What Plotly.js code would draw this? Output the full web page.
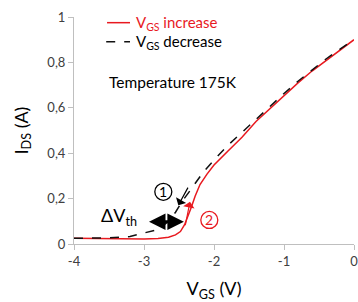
<!DOCTYPE html>
<html><head><meta charset="utf-8">
<script src="https://cdn.plot.ly/plotly-3.0.1.min.js"></script>
<style>html,body{margin:0;padding:0;background:#fff}#c{width:358px;height:302px}</style>
</head><body><div id="c"></div>
<script>
const incX = [-4, -3.5, -3, -2.8, -2.65, -2.55, -2.48, -2.42, -2.36, -2.32, -2.27, -2.2, -2.1, -2.0, -1.8, -1.6, -1.4, -1.2, -1.0, -0.8, -0.6, -0.4, -0.2, 0];
const incY = [0.025, 0.022, 0.022, 0.024, 0.03, 0.04, 0.055, 0.085, 0.13, 0.165, 0.21, 0.262, 0.308, 0.348, 0.41, 0.47, 0.54, 0.597, 0.655, 0.71, 0.762, 0.808, 0.853, 0.9];
const decX = [-4, -3.5, -3.2, -3.0, -2.85, -2.75, -2.65, -2.55, -2.45, -2.35, -2.25, -2.15, -2.0, -1.8, -1.6, -1.4, -1.2, -1.0, -0.8, -0.6, -0.4, -0.2, 0];
const decY = [0.025, 0.027, 0.033, 0.048, 0.06, 0.075, 0.1, 0.14, 0.19, 0.232, 0.275, 0.318, 0.37, 0.435, 0.492, 0.55, 0.605, 0.663, 0.717, 0.768, 0.815, 0.858, 0.9];
const xTicks = [-4, -3, -2, -1, 0];
const xTickText = ['-4', '-3', '-2', '-1', '0'];
const yTicks = [0, 0.2, 0.4, 0.6, 0.8, 1];
const yTickText = ['0', '0,2', '0,4', '0,6', '0,8', '1'];
const seriesNames = ['V<sub>GS</sub> increase', 'V<sub>GS</sub> decrease'];
const RED = '#e8191f';

const FONT = 'Lato, "Open Sans", sans-serif';
const data = [
  {x: incX, y: incY, mode: 'lines', name: seriesNames[0], line: {color: RED, width: 1.5}},
  {x: decX, y: decY, mode: 'lines', name: seriesNames[1], line: {color: '#111', width: 1.5, dash: 'dash'}}
];
function circ(xc, yc, r, color) {
  return {type: 'circle', xref: 'x', yref: 'y', xsizemode: 'pixel', ysizemode: 'pixel',
    xanchor: xc, yanchor: yc, x0: -r, x1: r, y0: -r, y1: r, line: {color: color, width: 1.3}};
}
const layout = {
  width: 358, height: 302,
  margin: {l: 74, r: 4, t: 17, b: 58},
  paper_bgcolor: '#fff', plot_bgcolor: '#fff',
  font: {family: FONT, color: '#404040', size: 12},
  showlegend: false,
  xaxis: {range: [-4, 0], tickvals: xTicks, ticktext: xTickText, showgrid: false, zeroline: false, showline: true,
    linecolor: '#bfbfbf', linewidth: 1, ticks: 'outside', tickcolor: '#bfbfbf', ticklen: 5,
    ticklabeloverflow: 'allow',
    tickfont: {size: 13, color: '#404040'},
    title: {text: 'V<sub>GS</sub> (V)', font: {size: 18, color: '#000'}, standoff: 16}},
  yaxis: {range: [0, 1], tickvals: yTicks, ticktext: yTickText, showgrid: false, zeroline: false, showline: true,
    linecolor: '#bfbfbf', linewidth: 1, ticks: 'outside', tickcolor: '#bfbfbf', ticklen: 5,
    tickfont: {size: 13, color: '#404040'},
    title: {text: 'I<sub>DS</sub> (A)', font: {size: 18, color: '#000'}, standoff: 14}},
  shapes: [
    {type: 'line', xref: 'paper', yref: 'paper', x0: 0.118, x1: 0.2, y0: 0.975, y1: 0.975, line: {color: RED, width: 1.5}},
    {type: 'line', xref: 'paper', yref: 'paper', x0: 0.115, x1: 0.2, y0: 0.891, y1: 0.891, line: {color: '#111', width: 1.5, dash: 'dash'}},
    circ(-2.724, 0.23, 8.5, '#000'),
    circ(-2.067, 0.106, 8.5, RED)
  ],
  annotations: [
    {xref: 'paper', yref: 'paper', x: 0.215, y: 0.975, xanchor: 'left', yanchor: 'middle', showarrow: false,
     text: seriesNames[0], font: {size: 15, color: RED}},
    {xref: 'paper', yref: 'paper', x: 0.215, y: 0.891, xanchor: 'left', yanchor: 'middle', showarrow: false,
     text: seriesNames[1], font: {size: 15, color: '#000'}},
    {xref: 'paper', yref: 'paper', x: 0.118, y: 0.712, xanchor: 'left', yanchor: 'middle', showarrow: false,
     text: 'Temperature 175K', font: {size: 15.5, color: '#000'}},
    {x: -2.43, y: 0.098, ax: -2.95, ay: 0.098, axref: 'x', ayref: 'y', xref: 'x', yref: 'y', text: '',
     showarrow: true, arrowhead: 2, startarrowhead: 2, arrowside: 'end+start', arrowwidth: 3, arrowsize: 1.1, startarrowsize: 1.1, arrowcolor: '#000'},
    {x: -3.65, y: 0.12, xref: 'x', yref: 'y', xanchor: 'left', showarrow: false, text: 'ΔV<sub>th</sub>', font: {size: 18, color: '#000'}},
    {x: -2.724, y: 0.23, xref: 'x', yref: 'y', showarrow: false, text: '1', font: {size: 14, color: '#000'}},
    {x: -2.067, y: 0.106, xref: 'x', yref: 'y', showarrow: false, text: '2', font: {size: 14, color: RED}},
    {x: -2.51, y: 0.171, ax: -2.36, ay: 0.255, axref: 'x', ayref: 'y', xref: 'x', yref: 'y', text: '',
     showarrow: true, arrowhead: 1, arrowwidth: 1.2, arrowsize: 1.6, arrowcolor: '#000'},
    {x: -2.343, y: 0.186, ax: -2.414, ay: 0.076, axref: 'x', ayref: 'y', xref: 'x', yref: 'y', text: '',
     showarrow: true, arrowhead: 1, arrowwidth: 1.2, arrowsize: 1.6, arrowcolor: RED}
  ]
};
Plotly.newPlot('c', data, layout, {staticPlot: true, displayModeBar: false});
</script></body></html>
